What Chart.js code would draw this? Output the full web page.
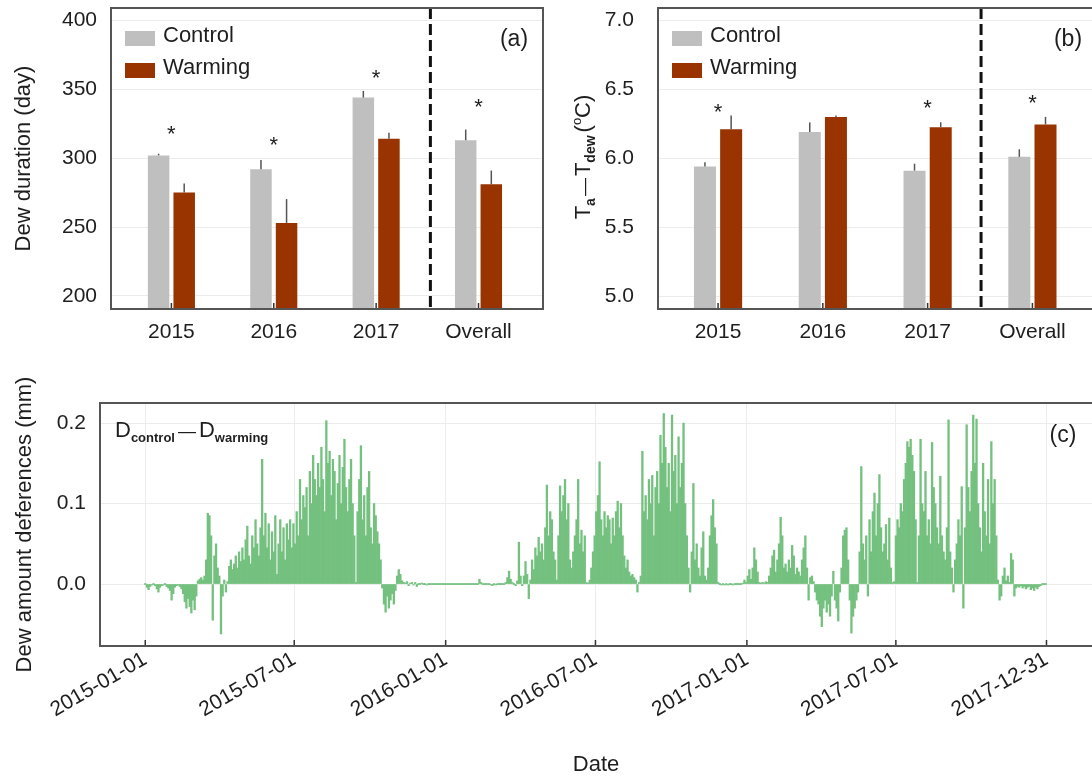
<!DOCTYPE html>
<html>
<head>
<meta charset="utf-8">
<script src="https://cdn.jsdelivr.net/npm/chart.js@4.4.1/dist/chart.umd.min.js"></script>
<style>
    html, body { margin: 0; padding: 0; background: #fff; overflow: hidden; }
    #wrap { position: relative; width: 1092px; height: 778px; overflow: hidden; }
    canvas { position: absolute; }
</style>
</head>
<body>
<div id="wrap">
    <canvas id="chart-a" width="560" height="350" style="left:0;top:0"></canvas>
    <canvas id="chart-b" width="560" height="350" style="left:540px;top:0"></canvas>
    <canvas id="chart-c" width="1092" height="418" style="left:0;top:360px"></canvas>
</div>
<script>
// ---- data ----
const years = ["2015", "2016", "2017", "Overall"];

// (a) dew duration, days
const durControl = [302, 292, 344, 313];
const durControlErr = [1.2, 6.6, 4.8, 7.8];
const durWarming = [275, 253, 314, 281];
const durWarmingErr = [6.6, 17.3, 4.5, 10];
const durStars = [321, 313, 362, 341];
const durTicks = [200, 250, 300, 350, 400];

// (b) Ta - Tdew, degC
const gapControl = [5.94, 6.19, 5.91, 6.01];
const gapControlErr = [0.03, 0.07, 0.05, 0.055];
const gapWarming = [6.21, 6.30, 6.225, 6.245];
const gapWarmingErr = [0.1, 0.01, 0.036, 0.055];
const gapStars = [6.37, null, 6.40, 6.44];
const gapTicks = [5.0, 5.5, 6.0, 6.5, 7.0];

// (c) dew amount difference, mm, one value every 2 days from 2015-01-01
const dateTicks = ["2015-01-01", "2015-07-01", "2016-01-01", "2016-07-01", "2017-01-01", "2017-07-01", "2017-12-31"];
const diffTicks = [0, 0.1, 0.2];
const dewDiff = [
    0, -0.004, -0.007, -0.003, -0.001, 0, -0.002, -0.006, -0.01, -0.004, -0.002, -0.001, 0, -0.003, -0.005,
    -0.008, -0.02, -0.012, -0.004, -0.002, -0.001, -0.003, -0.006, -0.012, -0.022, -0.03, -0.018, -0.028, -0.036, -0.02,
    -0.032, -0.015, 0.004, 0.006, 0.008, 0.005, 0.01, 0.03, 0.088, 0.085, 0.06, -0.045, 0.035, 0.05, 0.02,
    0.01, -0.062, -0.015, 0.005, -0.01, 0.003, 0.022, 0.03, 0.018, 0.025, 0.035, 0.02, 0.04, 0.028, 0.045,
    0.03, 0.055, 0.072, 0.035, 0.025, 0.06, 0.045, 0.08, 0.05, 0.035, 0.07, 0.155, 0.06, 0.088, 0.045,
    0.075, 0.03, 0.065, 0.04, 0.085, 0.012, 0.05, 0.08, 0.04, 0.07, 0.03, 0.075, 0.055, 0.08, 0.045,
    0.075, 0.05, 0.09, 0.06, 0.13, 0.08, 0.11, 0.095, 0.12, 0.06, 0.14, 0.1, 0.16, 0.13, 0.11,
    0.15, 0.12, 0.17, 0.13, 0.09, 0.203, 0.15, 0.165, 0.11, 0.155, 0.14, 0.08, 0.125, 0.16, 0.1,
    0.145, 0.18, 0.12, 0.09, 0.13, 0.155, 0.1, 0.06, 0.002, 0.09, 0.13, 0.172, 0.08, 0.11, 0.06,
    0.12, 0.14, 0.07, 0.05, 0.1, 0.085, 0.065, 0.05, 0.03, -0.005, -0.025, -0.035, -0.015, -0.03, -0.02,
    -0.012, -0.025, -0.008, 0.01, 0.018, 0.012, 0.004, 0.002, 0.001, 0.003, -0.002, 0.001, 0.002, -0.001, 0.002,
    -0.003, 0, 0, 0.001, 0, 0, -0.001, 0, 0, 0, 0, 0, 0, 0, 0,
    0, 0, 0, 0, 0, 0, 0, 0, 0, 0, 0, 0, 0, 0, 0,
    0, 0, 0, 0, 0, 0, 0, 0, 0.006, 0.002, 0, 0, 0, 0, 0,
    -0.001, -0.002, 0, -0.001, 0, 0, 0, 0, 0, 0.002, 0.008, 0.016, 0.006, 0.002, 0,
    -0.002, 0.004, 0.052, 0.01, -0.002, 0.01, 0.028, 0.012, -0.018, 0.005, 0.03, 0.018, 0.045, 0.035, 0.058,
    0.04, 0.05, 0.03, 0.07, 0.123, 0.06, 0.09, 0.08, 0.04, 0.03, 0.005, 0.06, 0.122, 0.09, 0.11,
    0.13, 0.08, 0.1, 0.03, 0.02, 0.04, 0.06, 0.08, 0.13, 0.05, 0.067, 0.04, 0.06, 0.002, 0.001,
    0.005, 0.02, 0.04, 0.06, 0.09, 0.11, 0.152, 0.08, 0.06, 0.09, 0.07, 0.085, 0.08, 0.05, 0.082,
    0.06, 0.09, 0.103, 0.07, 0.1, 0.06, 0.035, 0.02, 0.03, 0.015, 0.01, 0.012, 0.008, 0.005, -0.01,
    0.002, 0.01, 0.165, 0.09, 0.11, 0.08, 0.13, 0.1, 0.135, 0.06, 0.12, 0.14, 0.1, 0.185, 0.15,
    0.212, 0.17, 0.12, 0.15, 0.09, 0.21, 0.14, 0.16, 0.1, 0.183, 0.12, 0.15, 0.2, 0.1, 0.06,
    0.02, -0.01, 0.04, 0.125, 0.03, 0.05, 0.02, 0.01, 0.045, 0.065, 0.01, 0.005, 0.02, 0.06, 0.085,
    0.105, 0.07, 0.05, 0.002, 0, -0.001, 0, -0.001, 0, -0.001, 0, 0, -0.001, 0, 0,
    0, 0, 0, 0.001, 0.005, 0.002, 0.01, 0.018, 0.006, 0.02, 0.045, 0.03, 0.015, 0.002, 0.001,
    0.002, 0.001, 0.003, 0.002, 0.01, 0.02, 0.035, 0.042, 0.015, 0.03, 0.05, 0.083, 0.06, 0.02, 0.025,
    0.015, 0.03, 0.02, 0.048, 0.035, 0.012, 0.02, 0.015, 0.01, 0.03, 0.045, 0.06, 0.02, -0.02, 0.008,
    0.01, 0.003, -0.01, -0.02, -0.025, -0.04, -0.053, -0.03, -0.02, -0.035, -0.025, -0.04, -0.015, 0.016, -0.02,
    -0.03, -0.046, -0.01, 0.02, 0.06, 0.067, 0.07, 0.03, -0.02, -0.061, -0.04, -0.03, -0.02, -0.01, 0.04,
    0.146, 0.05, 0.03, 0.06, -0.015, 0.08, 0.04, 0.09, 0.113, 0.06, 0.1, 0.136, 0.07, 0.04, 0.05,
    0.074, 0.03, 0.082, 0.02, 0.002, 0.003, 0.06, 0.08, 0.07, 0.1, 0.09, 0.13, 0.15, 0.177, 0.17,
    0.18, 0.16, 0.14, 0.08, 0.002, 0.06, 0.18, 0.1, 0.09, 0.14, 0.06, 0.08, 0.05, 0.176, 0.12,
    0.1, 0.07, 0.05, 0.134, 0.06, 0.04, 0.03, 0.07, 0.204, 0.04, 0.02, -0.01, 0.03, 0.05, 0.08,
    0.06, 0.121, -0.03, 0.07, 0.198, 0.12, 0.09, 0.14, 0.21, 0.15, 0.205, 0.1, 0.07, 0.04, 0.15,
    0.09, 0.06, 0.13, 0.05, 0.177, 0.1, 0.13, 0.06, 0.005, -0.02, -0.015, 0.01, 0.02, 0.004, 0.01,
    0.002, 0.038, 0.03, -0.015, -0.005, -0.003, -0.004, -0.002, -0.005, -0.003, -0.006, -0.004, -0.003, -0.007, -0.005,
    -0.008, -0.004, -0.006, -0.003, -0.002, 0, 0, 0
];

// ---- helpers ----
const FONT = "'Liberation Sans', Arial, sans-serif";
const INK = "#1e1e1e";
Chart.defaults.font.family = FONT;
Chart.defaults.color = INK;

const dayOf = (s) => (Date.parse(s) - Date.parse(dateTicks[0])) / 864e5;
const tickDays = dateTicks.map(dayOf);
const dewDays = dewDiff.map((_, i) => i * 2);

// fixed axis boxes, no extra room asked for tick labels
const fixWidth = (w) => (s) => { s.width = w; s.paddingTop = 0; s.paddingBottom = 0; };
const fixHeight = (h) => (s) => { s.height = h; s.paddingLeft = 0; s.paddingRight = 0; };

function drawRich(ctx, parts, x, y, angle, align) {
    ctx.save();
    ctx.translate(x, y);
    ctx.rotate(angle);
    ctx.textAlign = "left";
    ctx.textBaseline = "alphabetic";
    ctx.fillStyle = INK;
    const fontOf = (p) => `${p.bold ? "bold " : ""}${p.size}px ${FONT}`;
    let total = 0;
    parts.forEach((p) => {
        ctx.font = fontOf(p);
        total += ctx.measureText(p.text).width + (p.gap || 0);
    });
    let cx = align === "center" ? -total / 2 : 0;
    parts.forEach((p) => {
        ctx.font = fontOf(p);
        ctx.fillText(p.text, cx, p.dy || 0);
        cx += ctx.measureText(p.text).width + (p.gap || 0);
    });
    ctx.restore();
}

// error bars, stars, divider, frame, legend and labels
const decor = {
    id: "decor",
    afterDraw(chart, args, opts) {
        const { ctx, chartArea: a, scales: { x, y } } = chart;
        ctx.save();

        chart.data.datasets.forEach((ds, di) => {
            if (!ds.errors) return;
            chart.getDatasetMeta(di).data.forEach((bar, i) => {
                const top = y.getPixelForValue(ds.data[i] + ds.errors[i]);
                ctx.strokeStyle = "#555";
                ctx.lineWidth = 1.5;
                ctx.beginPath();
                ctx.moveTo(bar.x, bar.y);
                ctx.lineTo(bar.x, top);
                ctx.stroke();
            });
        });

        if (opts.stars) {
            ctx.fillStyle = INK;
            ctx.font = `22px ${FONT}`;
            ctx.textAlign = "center";
            ctx.textBaseline = "alphabetic";
            opts.stars.forEach((v, i) => {
                if (v == null) return;
                ctx.fillText("*", x.getPixelForValue(i), y.getPixelForValue(v) + 12);
            });
        }

        if (opts.divider != null) {
            const dx = x.getPixelForValue(opts.divider);
            ctx.strokeStyle = "#111";
            ctx.lineWidth = 3;
            ctx.setLineDash([11, 5]);
            ctx.beginPath();
            ctx.moveTo(dx, a.top);
            ctx.lineTo(dx, a.bottom);
            ctx.stroke();
            ctx.setLineDash([]);
        }

        // inward ticks on the x axis
        ctx.strokeStyle = "#333";
        ctx.lineWidth = 1.5;
        x.ticks.forEach((t) => {
            const px = x.getPixelForValue(t.value);
            ctx.beginPath();
            ctx.moveTo(px, a.bottom);
            ctx.lineTo(px, a.bottom - 6);
            ctx.stroke();
        });

        // frame
        ctx.strokeStyle = "#555";
        ctx.lineWidth = 2;
        ctx.beginPath();
        if (opts.openRight) {
            ctx.moveTo(a.right + 2, a.top);
            ctx.lineTo(a.left, a.top);
            ctx.lineTo(a.left, a.bottom);
            ctx.lineTo(a.right + 2, a.bottom);
        } else {
            ctx.rect(a.left, a.top, a.right - a.left, a.bottom - a.top);
        }
        ctx.stroke();

        if (opts.legend) {
            chart.data.datasets.forEach((ds, i) => {
                const rx = a.left + opts.legend.x;
                const ry = a.top + opts.legend.y + i * 32;
                ctx.fillStyle = ds.backgroundColor;
                ctx.fillRect(rx, ry, 30, 15);
                ctx.fillStyle = INK;
                ctx.font = `22px ${FONT}`;
                ctx.textAlign = "left";
                ctx.textBaseline = "alphabetic";
                ctx.fillText(ds.label, rx + 38, ry + 11);
            });
        }

        if (opts.letter) {
            ctx.fillStyle = INK;
            ctx.font = `23px ${FONT}`;
            ctx.textAlign = "center";
            ctx.textBaseline = "alphabetic";
            ctx.fillText(opts.letter.text, opts.letter.x, opts.letter.y);
        }

        (opts.rich || []).forEach((r) => drawRich(ctx, r.parts, r.x, r.y, r.angle || 0, r.align));
        ctx.restore();
    }
};

function barPanel(id, p) {
    return new Chart(document.getElementById(id), {
        type: "bar",
        data: {
            labels: years.map((_, i) => i),
            datasets: [
                {
                    label: "Control",
                    data: p.control,
                    errors: p.controlErr,
                    backgroundColor: "#bfbfbf",
                    categoryPercentage: 0.5,
                    barPercentage: 0.84
                },
                {
                    label: "Warming",
                    data: p.warming,
                    errors: p.warmingErr,
                    backgroundColor: "#993300",
                    categoryPercentage: 0.5,
                    barPercentage: 0.84
                }
            ]
        },
        options: {
            responsive: false,
            animation: false,
            layout: { padding: { top: 8, right: p.padRight, left: 0, bottom: 0 } },
            plugins: {
                legend: { display: false },
                tooltip: { enabled: false },
                decor: {
                    stars: p.stars,
                    divider: p.divider,
                    openRight: p.openRight,
                    legend: { x: 14, y: 23 },
                    letter: p.letter,
                    rich: p.rich
                }
            },
            scales: {
                x: {
                    type: "linear",
                    min: p.xMin,
                    max: p.xMax,
                    offset: false,
                    afterFit: fixHeight(41),
                    afterBuildTicks: (s) => { s.ticks = years.map((_, i) => ({ value: i })); },
                    ticks: {
                        callback: (v) => years[v],
                        font: { size: 21 },
                        color: INK,
                        padding: 3,
                        maxRotation: 0,
                        autoSkip: false
                    },
                    grid: { display: false, offset: false },
                    border: { display: false }
                },
                y: {
                    min: p.yMin,
                    max: p.yMax,
                    afterFit: fixWidth(p.yWidth),
                    afterBuildTicks: (s) => { s.ticks = p.yTicks.map((v) => ({ value: v })); },
                    ticks: {
                        callback: (v) => v.toFixed(p.digits),
                        font: { size: 21 },
                        color: INK,
                        padding: p.tickPad
                    },
                    grid: { color: "#ececec", drawTicks: false },
                    border: { display: false },
                    title: {
                        display: !!p.yTitle,
                        text: p.yTitle,
                        font: { size: 22 },
                        color: INK,
                        padding: { top: 11, bottom: 0 }
                    }
                }
            }
        },
        plugins: [decor]
    });
}

barPanel("chart-a", {
    control: durControl, controlErr: durControlErr,
    warming: durWarming, warmingErr: durWarmingErr,
    stars: durStars, yTicks: durTicks, digits: 0,
    yMin: 190.5, yMax: 409, xMin: -0.59, xMax: 3.63,
    yWidth: 111, padRight: 17, tickPad: 14, divider: 2.53,
    yTitle: "Dew duration (day)",
    letter: { text: "(a)", x: 514, y: 46 }
});

barPanel("chart-b", {
    control: gapControl, controlErr: gapControlErr,
    warming: gapWarming, warmingErr: gapWarmingErr,
    stars: gapStars, yTicks: gapTicks, digits: 1,
    yMin: 4.906, yMax: 7.09, xMin: -0.573, xMax: 3.645,
    yWidth: 118, padRight: 0, tickPad: 24, divider: 2.51, openRight: true,
    yTitle: null,
    letter: { text: "(b)", x: 528, y: 46 },
    rich: [{
        x: 50, y: 157, angle: -Math.PI / 2, align: "center",
        parts: [
            { text: "T", size: 22 },
            { text: "a", size: 14, bold: true, dy: 5, gap: 2 },
            { text: "\u2014", size: 18, gap: 2 },
            { text: "T", size: 22 },
            { text: "dew", size: 14, bold: true, dy: 5, gap: 3 },
            { text: "(", size: 22 },
            { text: "o", size: 13, dy: -9 },
            { text: "C)", size: 22 }
        ]
    }]
});

new Chart(document.getElementById("chart-c"), {
    type: "bar",
    data: {
        labels: dewDays,
        datasets: [{
            label: "Dcontrol - Dwarming",
            data: dewDiff,
            backgroundColor: "#74c17f",
            categoryPercentage: 1,
            barPercentage: 1,
            minBarLength: 1
        }]
    },
    options: {
        responsive: false,
        animation: false,
        layout: { padding: { top: 43, right: 0, left: 0, bottom: 0 } },
        plugins: {
            legend: { display: false },
            tooltip: { enabled: false },
            decor: {
                openRight: true,
                letter: { text: "(c)", x: 1063, y: 82 },
                rich: [{
                    x: 115, y: 77,
                    parts: [
                        { text: "D", size: 22 },
                        { text: "control", size: 13, bold: true, dy: 5, gap: 3 },
                        { text: "\u2014", size: 18, gap: 3 },
                        { text: "D", size: 22 },
                        { text: "warming", size: 13, bold: true, dy: 5 }
                    ]
                }]
            }
        },
        scales: {
            x: {
                type: "linear",
                min: -55,
                max: 1150.3,
                offset: false,
                afterFit: fixHeight(132),
                afterBuildTicks: (s) => { s.ticks = tickDays.map((v) => ({ value: v })); },
                ticks: {
                    callback: (v) => dateTicks[tickDays.indexOf(v)],
                    font: { size: 21 },
                    color: INK,
                    padding: 1,
                    minRotation: 30,
                    maxRotation: 30,
                    autoSkip: false
                },
                grid: { color: "#ececec", drawTicks: false, offset: false },
                border: { display: false },
                title: {
                    display: true,
                    text: "Date",
                    font: { size: 22 },
                    color: INK,
                    padding: { top: 0, bottom: 0 }
                }
            },
            y: {
                min: -0.077,
                max: 0.225,
                afterFit: fixWidth(100),
                afterBuildTicks: (s) => { s.ticks = diffTicks.map((v) => ({ value: v })); },
                ticks: {
                    callback: (v) => v.toFixed(1),
                    font: { size: 21 },
                    color: INK,
                    padding: 14
                },
                grid: { color: "#ececec", drawTicks: false },
                border: { display: false },
                title: {
                    display: true,
                    text: "Dew amount deferences (mm)",
                    font: { size: 22 },
                    color: INK,
                    padding: { top: 12, bottom: 0 }
                }
            }
        }
    },
    plugins: [decor]
});
</script>
</body>
</html>
